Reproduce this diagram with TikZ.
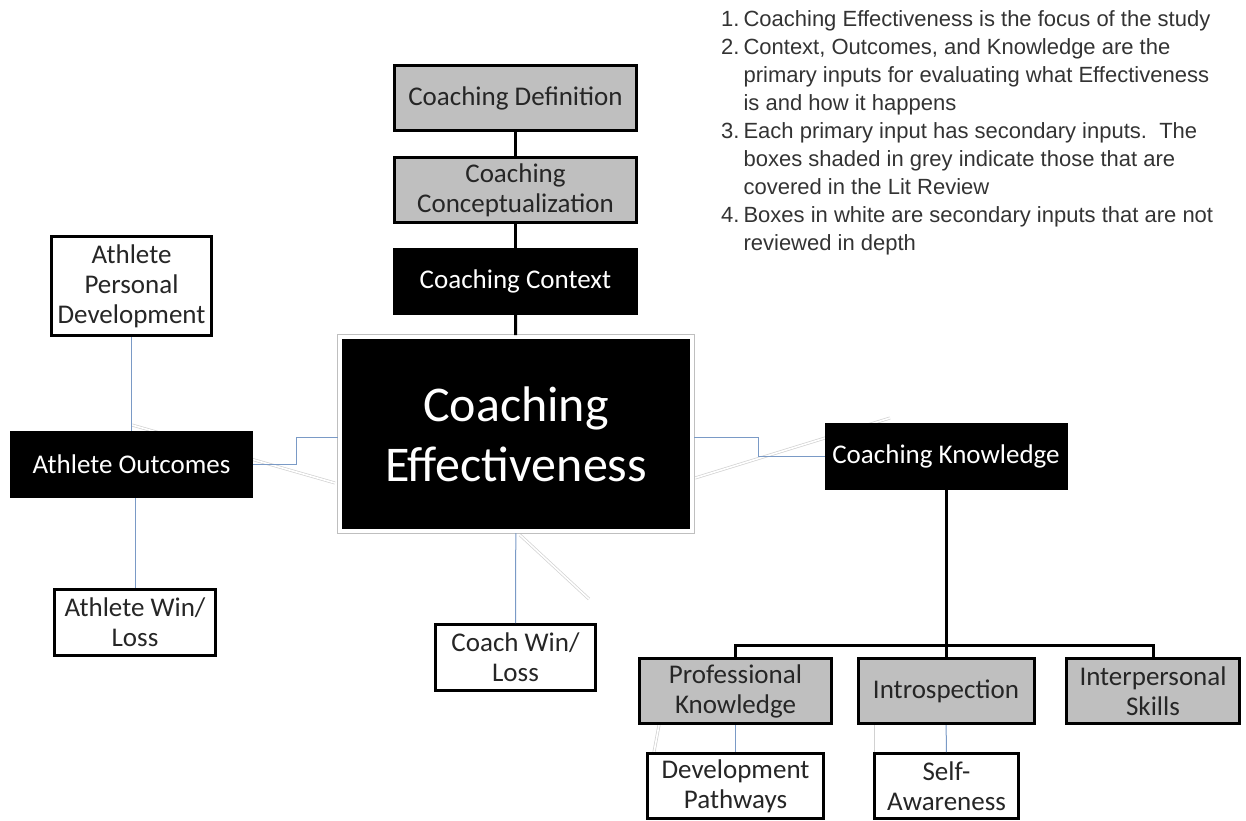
\documentclass[tikz,border=0pt]{standalone}
\usepackage{fontspec}
\setmainfont{Carlito}
\newfontfamily\notefont{Liberation Sans}
\usepackage{tikz}
\usepackage{xcolor}
\usetikzlibrary{positioning}

\definecolor{boxgrey}{RGB}{191,191,191}
\definecolor{linkblue}{RGB}{122,154,198}
\newcommand{\boxfont}{\fontsize{27}{30}\selectfont}
\newcommand{\bigboxfont}{\fontsize{50}{60}\selectfont}

\tikzset{
    box/.style={draw=black, line width=3pt, inner sep=0pt, align=center, font=\boxfont, text=black!85},
    greybox/.style={box, fill=boxgrey},
    whitebox/.style={box, fill=white},
    blackbox/.style={box, fill=black, text=white},
    link/.style={draw=linkblue, line width=1pt},
    trunk/.style={draw=black, line width=3pt},
    ghost/.style={draw=black!18, line width=0.7pt, double=white, double distance=1.6pt}
}

\begin{document}
\begin{tikzpicture}[x=1pt, y=-1pt]
            \useasboundingbox (0, 0) rectangle (1246, 820);

            % faint leftover lines behind the boxes
            \coordinate (g1a) at (132, 425);
            \coordinate (g1b) at (335, 483);
            \coordinate (g2a) at (695, 478);
            \coordinate (g2b) at (890, 418);
            \coordinate (g3a) at (520, 535);
            \coordinate (g3b) at (589, 599);
            \coordinate (g4a) at (659, 725);
            \coordinate (g4b) at (654, 752);
            \coordinate (g5a) at (873, 725);
            \coordinate (g5b) at (873, 752);
            \draw[ghost] (g1a) -- (g1b);
            \draw[ghost] (g2a) -- (g2b);
            \draw[ghost] (g3a) -- (g3b);
            \draw[ghost] (g4a) -- (g4b);
            \draw[ghost] (g5a) -- (g5b);

            \node[greybox, minimum width=242pt, minimum height=65pt] (def) at (515.5, 98) {Coaching Definition};
            \node[greybox, minimum width=242pt, minimum height=65pt] (concept) at (515.5, 190) {Coaching\\Conceptualization};
            \node[blackbox, minimum width=242pt, minimum height=64pt] (context) at (515.5, 281.5) {Coaching Context};
            \node[fill=black, draw=white, line width=4pt, preaction={draw=black!25, line width=6pt}, inner sep=0pt,
                  minimum width=352pt, minimum height=194pt, align=center, font=\bigboxfont, text=white] (eff) at (516, 434) {Coaching\\Effectiveness};

            \node[whitebox, minimum width=160pt, minimum height=99pt] (apd) at (131.5, 286) {Athlete\\Personal\\Development};
            \node[blackbox, minimum width=240pt, minimum height=64pt] (ao) at (131.5, 464.5) {Athlete Outcomes};
            \node[whitebox, minimum width=161pt, minimum height=66pt] (awl) at (135, 622.5) {Athlete Win/\\Loss};
            \node[whitebox, minimum width=160pt, minimum height=66pt] (cwl) at (515.5, 657.5) {Coach Win/\\Loss};

            \node[blackbox, minimum width=240pt, minimum height=64pt] (ck) at (946, 456.5) {Coaching Knowledge};
            \node[greybox, minimum width=192pt, minimum height=65pt] (pk) at (735.5, 691) {Professional\\Knowledge};
            \node[greybox, minimum width=176pt, minimum height=65pt] (intro) at (946, 691) {Introspection};
            \node[greybox, minimum width=173pt, minimum height=65pt] (ips) at (1153, 691) {Interpersonal\\Skills};
            \node[whitebox, minimum width=176pt, minimum height=65pt] (dp) at (735.5, 786) {Development\\Pathways};
            \node[whitebox, minimum width=144pt, minimum height=65pt] (sa) at (946.5, 786) {Self-\\Awareness};

            \node[anchor=base west, inner sep=0pt, font=\notefont\fontsize{22}{28}\selectfont, text=black!80] (notes) at (721, 26) {%
                \begin{tabular}[t]{@{}l@{\hspace{4pt}}l@{}}
                1. & Coaching Effectiveness is the focus of the study\\
                2. & Context, Outcomes, and Knowledge are the\\
                   & primary inputs for evaluating what Effectiveness\\
                   & is and how it happens\\
                3. & Each primary input has secondary inputs.\ \ The\\
                   & boxes shaded in grey indicate those that are\\
                   & covered in the Lit Review\\
                4. & Boxes in white are secondary inputs that are not\\
                   & reviewed in depth
                \end{tabular}};

            \coordinate (jl) at (296, 437);
            \coordinate (jr) at (758, 437);
            \coordinate (bus) at (946, 645);

            \draw[trunk] (def) -- (concept);
            \draw[trunk] (concept) -- (context);
            \draw[trunk] (context) -- (eff);
            \draw[trunk] (ck) -- (intro);
            \draw[trunk] (pk.north) |- (bus) -| (ips.north);

            \draw[link] (apd) -- (ao);
            \draw[link] (ao.east) -| (jl) -- (jl -| eff.west);
            \draw[link] (awl.north |- ao.south) -- (awl.north);
            \draw[link] (jr -| eff.east) -- (jr) |- (ck.west);
            \draw[link] (eff) -- (cwl);
            \draw[link] (pk) -- (dp);
            \draw[link] (intro) -- (sa);
        \end{tikzpicture}
\end{document}
